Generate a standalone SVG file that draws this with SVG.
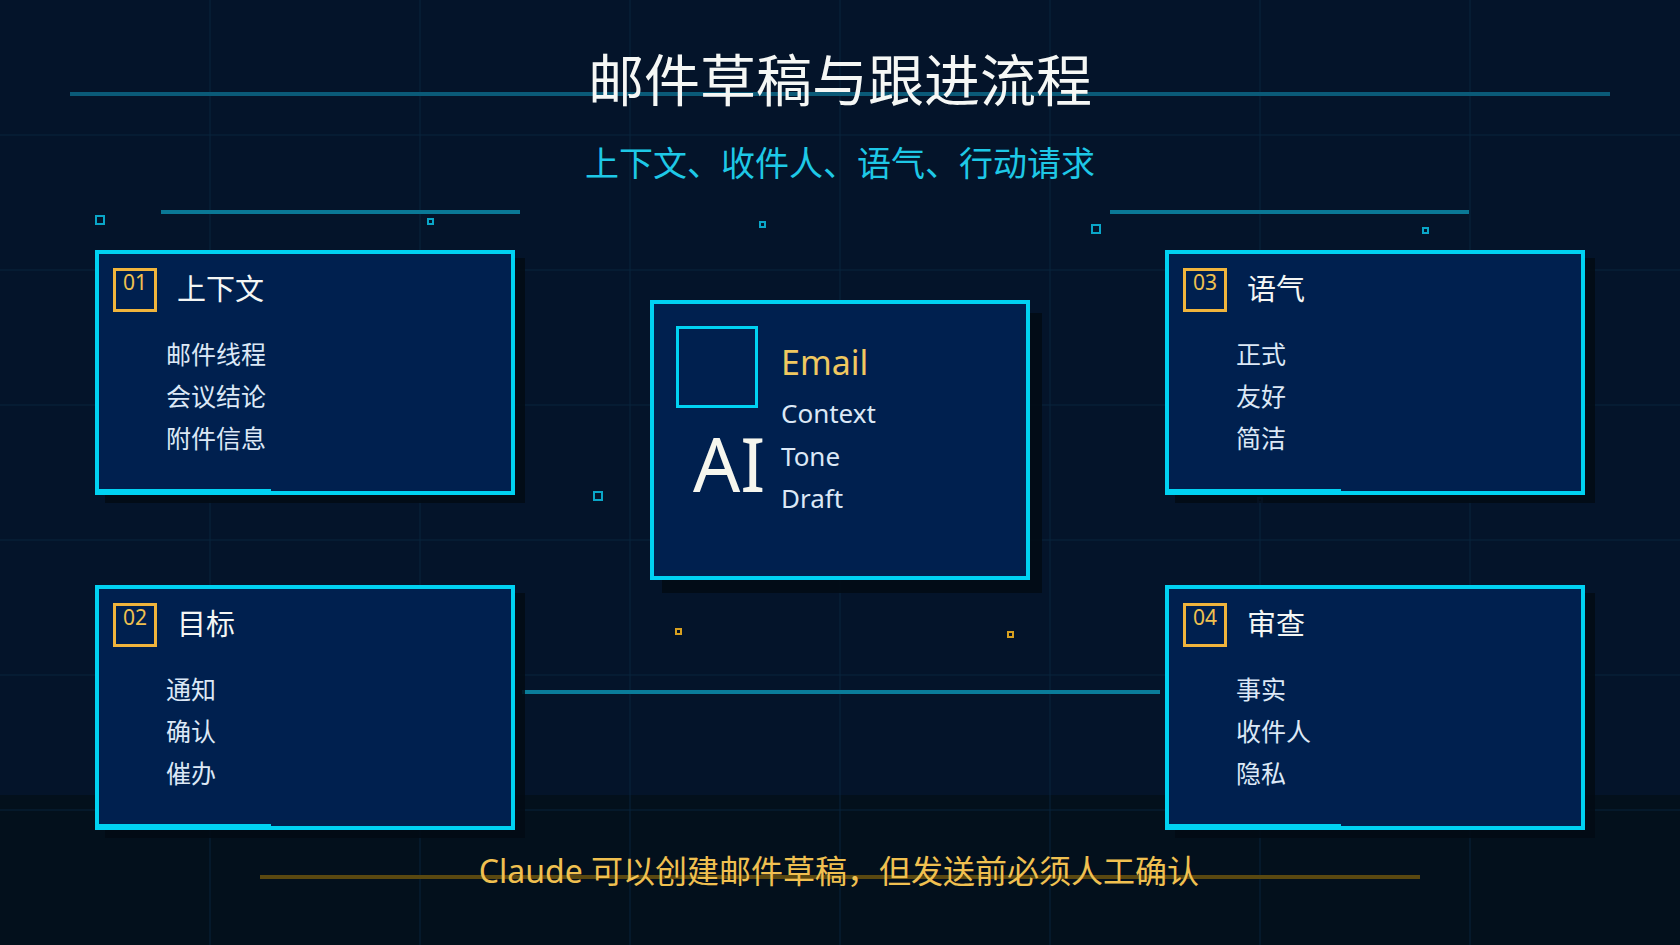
<svg xmlns="http://www.w3.org/2000/svg" width="1680" height="945" viewBox="0 0 1680 945">
<defs>
<style>
.grid line{stroke:#0a2842;stroke-width:1;opacity:0.8}
.card{fill:#00204f;stroke:#00d2f2;stroke-width:4}
.shadow{fill:#020a14;opacity:0.85}
.badge{fill:none;stroke:#f0b43c;stroke-width:3}
.num{font-family:"Noto Sans","Open Sans",sans-serif;font-size:21px;fill:#f0c050;text-anchor:middle}
.ttl{font-family:"Noto Sans","Noto Sans CJK SC",sans-serif;font-size:29px;fill:#f4f6f4}
.item{font-family:"Noto Sans","Noto Sans CJK SC",sans-serif;font-size:25px;fill:#dce8f6}
.accent{fill:#00d2f2}
.deco{fill:none;stroke:#0aa6c8;stroke-width:2}
.faint{fill:none;stroke:#1a3a66;stroke-width:2}
.gold{fill:none;stroke:#d8a020;stroke-width:2}
.en{font-family:"Noto Sans","Open Sans",sans-serif;fill:#dce8f6;font-size:26px}
</style>
</defs>
<rect x="0" y="0" width="1680" height="945" fill="#04142a"/>
<rect x="0" y="795" width="1680" height="150" fill="#03101c"/>
<g class="grid">
<line x1="210" y1="0" x2="210" y2="945"/><line x1="420" y1="0" x2="420" y2="945"/><line x1="630" y1="0" x2="630" y2="945"/><line x1="840" y1="0" x2="840" y2="945"/><line x1="1050" y1="0" x2="1050" y2="945"/><line x1="1260" y1="0" x2="1260" y2="945"/><line x1="1470" y1="0" x2="1470" y2="945"/>
<line x1="0" y1="135" x2="1680" y2="135"/><line x1="0" y1="270" x2="1680" y2="270"/><line x1="0" y1="405" x2="1680" y2="405"/><line x1="0" y1="540" x2="1680" y2="540"/><line x1="0" y1="675" x2="1680" y2="675"/><line x1="0" y1="810" x2="1680" y2="810"/>
</g>
<g id="header">
<line x1="70" y1="94" x2="1610" y2="94" stroke="#0a5a78" stroke-width="4"/>
<text x="840" y="101" text-anchor="middle" font-family="Noto Sans CJK SC, sans-serif" font-size="56" fill="#f5f7f5">邮件草稿与跟进流程</text>
<text x="840" y="176" text-anchor="middle" font-family="Noto Sans CJK SC, sans-serif" font-size="34" fill="#1ec8e6">上下文、收件人、语气、行动请求</text>
<line x1="161" y1="212" x2="520" y2="212" stroke="#0a7896" stroke-width="4"/>
<line x1="1110" y1="212" x2="1469" y2="212" stroke="#0a7896" stroke-width="4"/>
</g>
<g id="decor">
<rect class="deco" x="96" y="216" width="8" height="8"/>
<rect class="deco" x="428" y="219" width="5" height="5"/>
<rect class="deco" x="760" y="222" width="5" height="5"/>
<rect class="deco" x="1092" y="225" width="8" height="8"/>
<rect class="deco" x="1423" y="228" width="5" height="5"/>
<rect class="deco" x="594" y="492" width="8" height="8"/>
<rect class="gold" x="676" y="629" width="5" height="5"/>
<rect class="gold" x="1008" y="632" width="5" height="5"/>
<rect class="faint" x="345" y="627" width="6" height="6"/>
<rect class="faint" x="1342" y="637" width="6" height="6"/>
<rect class="faint" x="926" y="495" width="4" height="4"/>
<rect class="faint" x="1174" y="361" width="4" height="4"/>
<rect class="faint" x="1507" y="364" width="4" height="4"/>
<rect class="faint" x="1258" y="498" width="4" height="4"/>
</g>
<g id="connectors">
<line x1="522" y1="692" x2="1160" y2="692" stroke="#0a7c9a" stroke-width="4"/>
<line x1="260" y1="877" x2="1420" y2="877" stroke="#5a4810" stroke-width="4"/>
</g>
<g id="card01" transform="translate(95,250)">
<rect class="shadow" x="10" y="8" width="420" height="245"/>
<rect class="card" x="2" y="2" width="416" height="241"/>
<rect class="accent" x="2" y="239" width="174" height="3"/>
<rect class="badge" x="19.5" y="19.5" width="41" height="41"/>
<text class="num" x="40" y="40">01</text>
<text class="ttl" x="82" y="50">上下文</text>
<text class="item" x="71" y="114">邮件线程</text>
<text class="item" x="71" y="156">会议结论</text>
<text class="item" x="71" y="198">附件信息</text>
</g>
<g id="card02" transform="translate(95,585)">
<rect class="shadow" x="10" y="8" width="420" height="245"/>
<rect class="card" x="2" y="2" width="416" height="241"/>
<rect class="accent" x="2" y="239" width="174" height="3"/>
<rect class="badge" x="19.5" y="19.5" width="41" height="41"/>
<text class="num" x="40" y="40">02</text>
<text class="ttl" x="82" y="50">目标</text>
<text class="item" x="71" y="114">通知</text>
<text class="item" x="71" y="156">确认</text>
<text class="item" x="71" y="198">催办</text>
</g>
<g id="card03" transform="translate(1165,250)">
<rect class="shadow" x="10" y="8" width="420" height="245"/>
<rect class="card" x="2" y="2" width="416" height="241"/>
<rect class="accent" x="2" y="239" width="174" height="3"/>
<rect class="badge" x="19.5" y="19.5" width="41" height="41"/>
<text class="num" x="40" y="40">03</text>
<text class="ttl" x="82" y="50">语气</text>
<text class="item" x="71" y="114">正式</text>
<text class="item" x="71" y="156">友好</text>
<text class="item" x="71" y="198">简洁</text>
</g>
<g id="card04" transform="translate(1165,585)">
<rect class="shadow" x="10" y="8" width="420" height="245"/>
<rect class="card" x="2" y="2" width="416" height="241"/>
<rect class="accent" x="2" y="239" width="174" height="3"/>
<rect class="badge" x="19.5" y="19.5" width="41" height="41"/>
<text class="num" x="40" y="40">04</text>
<text class="ttl" x="82" y="50">审查</text>
<text class="item" x="71" y="114">事实</text>
<text class="item" x="71" y="156">收件人</text>
<text class="item" x="71" y="198">隐私</text>
</g>
<g id="center" transform="translate(650,300)">
<rect class="shadow" x="12" y="13" width="380" height="280"/>
<rect class="card" x="2" y="2" width="376" height="276"/>
<rect x="27.5" y="27.5" width="79" height="79" fill="none" stroke="#00d2f2" stroke-width="3"/>
<text x="43" y="192" font-family="Noto Sans, Open Sans, sans-serif" font-size="74" fill="#f6f6ee">AI</text>
<text x="131" y="75" font-family="Noto Sans, Open Sans, sans-serif" font-size="34" fill="#f0c860">Email</text>
<text class="en" x="131" y="123">Context</text>
<text class="en" x="131" y="166">Tone</text>
<text class="en" x="131" y="208">Draft</text>
</g>
<g id="footer">
<text x="839" y="883" text-anchor="middle" font-family="Noto Sans, Noto Sans CJK SC, sans-serif" font-size="32" fill="#f0c050">Claude 可以创建邮件草稿，但发送前必须人工确认</text>
</g>
</svg>
